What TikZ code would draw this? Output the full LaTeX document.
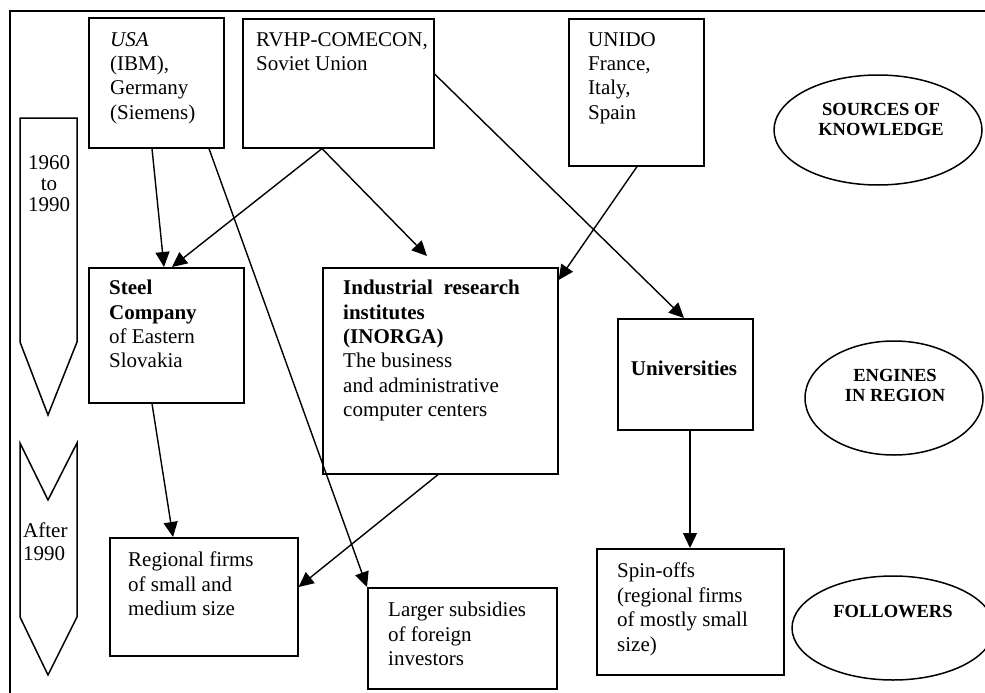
\documentclass[tikz,border=0pt]{standalone}
\usepackage{fontspec}
\setmainfont{Liberation Serif}
\usetikzlibrary{arrows.meta,shapes.geometric}
\begin{document}
\begin{tikzpicture}[x=1pt,y=-1pt,
  box/.style={draw, line width=1.6pt, rectangle, inner sep=0pt, anchor=north west},
  ell/.style={draw, line width=1.5pt, ellipse, inner sep=0pt},
  txt/.style={anchor=north west, inner sep=0pt, align=left, font=\fontsize{21}{24.4}\selectfont, execute at begin node=\strut},
  etxt/.style={inner sep=0pt, align=center, font=\bfseries\fontsize{18.5}{20}\selectfont},
  arr/.style={line width=1.4pt, -{Triangle[length=15pt,width=14pt]}},
  band/.style={draw, line width=1.5pt, line join=miter}]
\useasboundingbox (0,0) rectangle (985,693);
% frame
\draw[line width=1.6pt] (985,11) -- (10,11) -- (10,693);
% period arrows
\draw[band] (20,118) -- (77,118) -- (77,342) -- (48,415) -- (20,342) -- cycle;
\draw[band] (20,443) -- (48,500) -- (77,443) -- (77,617) -- (48,675) -- (20,617) -- cycle;
\node[anchor=north, inner sep=0pt, align=center, font=\fontsize{21}{21}\selectfont, execute at begin node=\strut] (p1) at (49,155) {1960\\to\\1990};
\node[anchor=north west, inner sep=0pt, align=left, font=\fontsize{21}{23}\selectfont, execute at begin node=\strut] (p2) at (23,523) {After\\1990};
% boxes
\node[box, minimum width=135pt, minimum height=130pt] (usa) at (88,17) {};
\node[box, minimum width=191pt, minimum height=129pt] (rvhp) at (242,18) {};
\node[box, minimum width=135pt, minimum height=147pt] (unido) at (568,18) {};
\node[box, minimum width=155pt, minimum height=135pt] (steel) at (88,267) {};
\node[box, minimum width=235pt, minimum height=206pt] (inorga) at (322,267) {};
\node[box, minimum width=135pt, minimum height=111pt] (univ) at (617,318) {};
\node[box, minimum width=188pt, minimum height=118pt] (regional) at (109,537) {};
\node[box, minimum width=189pt, minimum height=101pt] (larger) at (367,587) {};
\node[box, minimum width=187pt, minimum height=126pt] (spin) at (596,548) {};
% box texts
\node[txt] (usaT) at (110,32) {\textit{USA}\\(IBM),\\Germany\\(Siemens)};
\node[txt] (rvhpT) at (256,32) {RVHP-COMECON,\\Soviet Union};
\node[txt] (unidoT) at (588,32) {UNIDO\\France,\\Italy,\\Spain};
\node[txt] (steelT) at (109,280) {\textbf{Steel}\\\textbf{Company}\\of Eastern\\Slovakia};
\node[txt] (inorgaT) at (343,280) {\textbf{Industrial\ \ research}\\\textbf{institutes}\\\textbf{(INORGA)}\\The business\\and administrative\\computer centers};
\node[inner sep=0pt, anchor=base, font=\bfseries\fontsize{21}{24.4}\selectfont] (univT) at (684,375) {Universities};
\node[txt] (regionalT) at (128,552) {Regional firms\\of small and\\medium size};
\node[txt] (largerT) at (388,602) {Larger subsidies\\of foreign\\investors};
\node[txt] (spinT) at (617,563) {Spin-offs\\(regional firms\\of mostly small\\size)};
% ellipses
\node[ell, minimum width=208pt, minimum height=110pt] (sources) at (878,130) {};
\node[ell, minimum width=178pt, minimum height=114pt] (engines) at (894,398) {};
\node[ell, minimum width=202pt, minimum height=104pt] (followers) at (893,628) {};
\node[etxt, anchor=north, execute at begin node=\strut] (sourcesT) at (881,103.5) {SOURCES OF\\KNOWLEDGE};
\node[etxt, anchor=north, execute at begin node=\strut] (enginesT) at (895,369.5) {ENGINES\\IN REGION};
\node[etxt, anchor=base] (followersT) at (893,617.5) {FOLLOWERS};
% connectors
\draw[arr] ([xshift=64pt]usa.south west) -- ([xshift=76pt]steel.north west);
\draw[arr] ([xshift=80pt]rvhp.south west) -- ([xshift=84pt]steel.north west);
\draw[arr] ([xshift=80pt]rvhp.south west) -- ([xshift=105pt,yshift=11pt]inorga.north west);
\draw[arr] ([yshift=-56pt]rvhp.north east) -- ([xshift=67pt]univ.north west);
\draw[arr] ([xshift=69pt]unido.south west) -- ([yshift=-13pt]inorga.north east);
\draw[arr] ([xshift=121pt]usa.south west) -- (larger.north west);
\draw[arr] ([xshift=64pt]steel.south west) -- ([xshift=64pt]regional.north west);
\draw[arr] ([xshift=116pt]inorga.south west) -- ([yshift=-50pt]regional.north east);
\draw[arr] ([xshift=73pt]univ.south west) -- ([xshift=94pt]spin.north west);
\end{tikzpicture}
\end{document}
